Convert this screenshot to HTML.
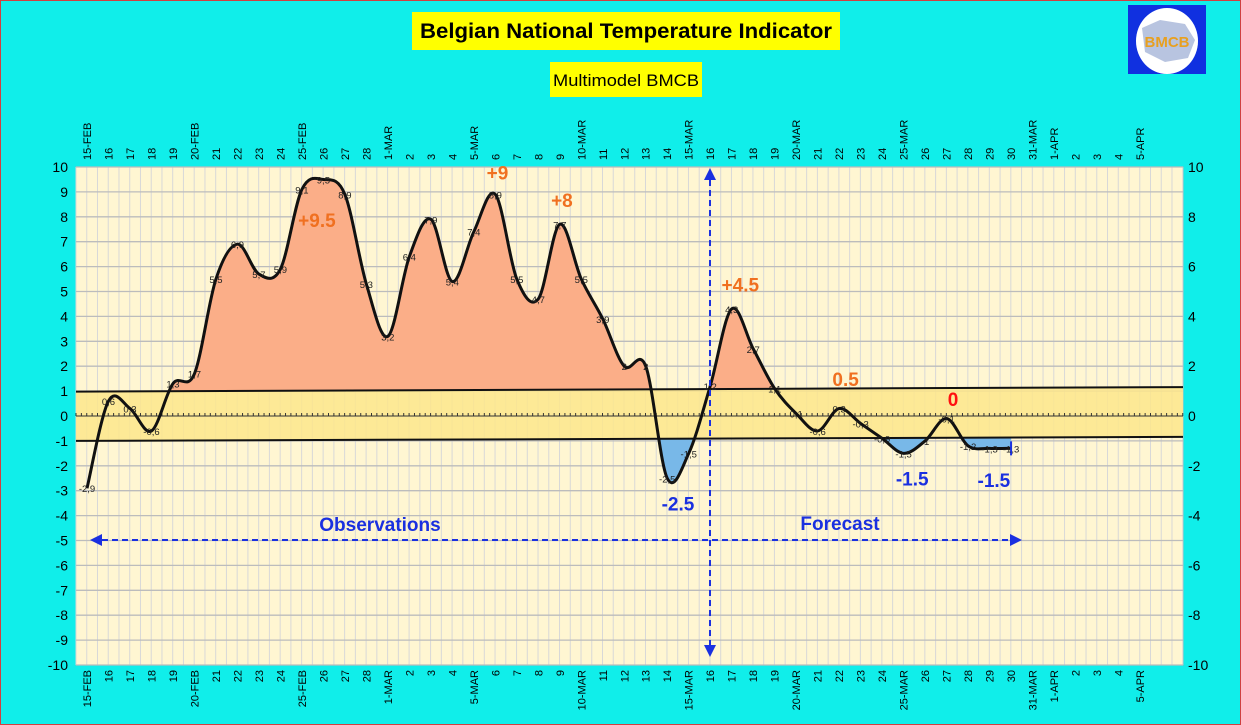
<!DOCTYPE html>
<html><head><meta charset="utf-8"><style>
html,body{margin:0;padding:0;background:#10eeea;}
svg{display:block;font-family:"Liberation Sans",sans-serif;}
</style></head><body>
<svg id="chart" width="1241" height="725" viewBox="0 0 1241 725">
<rect x="0.5" y="0.5" width="1240" height="724" fill="#10eeea" stroke="#d04040"/>
<rect x="412" y="12" width="428" height="38" fill="#ffff00"/>
<text x="626" y="38" text-anchor="middle" font-size="21" font-weight="bold" textLength="412" lengthAdjust="spacingAndGlyphs">Belgian National Temperature Indicator</text>
<rect x="550" y="62" width="152" height="35" fill="#ffff00"/>
<text x="626" y="86" text-anchor="middle" font-size="17" textLength="146" lengthAdjust="spacingAndGlyphs">Multimodel BMCB</text>
<g>
<rect x="1128" y="5" width="78" height="69" fill="#1030e0"/>
<ellipse cx="1167" cy="41" rx="31" ry="33" fill="#ffffff"/>
<path d="M1142 28 L1160 20 L1185 24 L1195 40 L1188 58 L1165 62 L1145 52 Z" fill="#b8c4e0"/>
<text x="1167" y="47" text-anchor="middle" font-size="15" font-weight="bold" fill="#e8a020">BMCB</text>
</g>
<g id="plot"></g>
</svg>
<script>
const days=["15-FEB","16","17","18","19","20-FEB","21","22","23","24","25-FEB","26","27","28","1-MAR","2","3","4","5-MAR","6","7","8","9","10-MAR","11","12","13","14","15-MAR","16","17","18","19","20-MAR","21","22","23","24","25-MAR","26","27","28","29","30","31-MAR","1-APR","2","3","4","5-APR"];
const values=[-2.9,0.6,0.3,-0.6,1.3,1.7,5.5,6.9,5.7,5.9,9.1,9.5,8.9,5.3,3.2,6.4,7.9,5.4,7.4,8.9,5.5,4.7,7.7,5.5,3.9,2,2,-2.5,-1.5,1.2,4.3,2.7,1.1,0.1,-0.6,0.3,-0.3,-0.9,-1.5,-1,-0.1,-1.2,-1.3,-1.3];
const yTicksLeft=[10,9,8,7,6,5,4,3,2,1,0,-1,-2,-3,-4,-5,-6,-7,-8,-9,-10];
const yTicksRight=[10,8,6,4,2,0,-2,-4,-6,-8,-10];
const bandUpper=[0.98,1.16];
const bandLower=[-1.0,-0.84];
const annotations=[["+9.5",10.7,7.6,"#f07020"],["+9",19.1,9.5,"#f07020"],["+8",22.1,8.4,"#f07020"],["+4.5",30.4,5.0,"#f07020"],["0.5",35.3,1.2,"#f07020"],["0",40.3,0.4,"#ff1010"],["-2.5",27.5,-3.8,"#1a30e0"],["-1.5",38.4,-2.8,"#1a30e0"],["-1.5",42.2,-2.85,"#1a30e0"]];
</script>
<script>
const NS="http://www.w3.org/2000/svg";
const g=document.getElementById('plot');
const L=76,R=1183,T=167,B=665;
const x0=87,dx=21.49;
function X(i){return x0+i*dx;}
function Y(v){return 416-v*24.9;}
function mk(tag,attrs,parent){const e=document.createElementNS(NS,tag);for(const k in attrs)e.setAttribute(k,attrs[k]);(parent||g).appendChild(e);return e;}
let bg=mk('rect',{x:L,y:T,width:R-L,height:B-T,fill:'#fff6d2',stroke:'#aaa'});


for(let xx=L;xx<=R;xx+=dx/2){let l=mk('line',{x1:xx,x2:xx,y1:T,y2:B,stroke:'#d8d8d8','stroke-width':1});

}
for(const v of yTicksLeft){let l=mk('line',{x1:L,x2:R,y1:Y(v),y2:Y(v),stroke:'#bcbcbc','stroke-width':1.3});

}
function bu(x){return Y(bandUpper[0]+(bandUpper[1]-bandUpper[0])*(x-L)/(R-L));}
function bl(x){return Y(bandLower[0]+(bandLower[1]-bandLower[0])*(x-L)/(R-L));}
let band=mk('polygon',{points:`${L},${bu(L)} ${R},${bu(R)} ${R},${bl(R)} ${L},${bl(L)}`,fill:'#fde68c',opacity:0.85});


const pts=values.map((v,i)=>[X(i),Y(v)]);
let d=`M${pts[0][0]},${pts[0][1]}`;
for(let i=0;i<pts.length-1;i++){const p0=pts[Math.max(0,i-1)],p1=pts[i],p2=pts[i+1],p3=pts[Math.min(pts.length-1,i+2)];
const c1=[p1[0]+(p2[0]-p0[0])/6,p1[1]+(p2[1]-p0[1])/6],c2=[p2[0]-(p3[0]-p1[0])/6,p2[1]-(p3[1]-p1[1])/6];
d+=` C${c1[0]},${c1[1]} ${c2[0]},${c2[1]} ${p2[0]},${p2[1]}`;}
const xs=pts[0][0],xe=pts[pts.length-1][0];
const defs=mk('defs',{});
const cpA=mk('clipPath',{id:'above'},defs);mk('polygon',{points:`${L},${T} ${R},${T} ${R},${bu(R)} ${L},${bu(L)}`},cpA);
const xb=X(1);
const cpB=mk('clipPath',{id:'below'},defs);mk('polygon',{points:`${xb},${bl(xb)} ${R},${bl(R)} ${R},${B} ${xb},${B}`},cpB);
let fa=mk('path',{d:d+` L${xe},${bu(xe)} L${xs},${bu(xs)} Z`,fill:'#fbae88','clip-path':'url(#above)'});


let fb=mk('path',{d:d+` L${xe},${bl(xe)} L${xs},${bl(xs)} Z`,fill:'#78b8e8','clip-path':'url(#below)'});


let l1=mk('line',{x1:L,y1:bu(L),x2:R,y2:bu(R),stroke:'#111','stroke-width':2});


let l2=mk('line',{x1:L,y1:bl(L),x2:R,y2:bl(R),stroke:'#111','stroke-width':2});


let z=mk('line',{x1:L,y1:Y(0),x2:R,y2:Y(0),stroke:'#333','stroke-width':1});


for(let xx=L;xx<=R;xx+=dx/4){let t=mk('line',{x1:xx,x2:xx,y1:Y(0)-3,y2:Y(0),stroke:'#333','stroke-width':1});

}
let c=mk('path',{d:d,fill:'none',stroke:'#111','stroke-width':3});


let et=mk('line',{x1:xe,x2:xe,y1:Y(values[values.length-1])-7,y2:Y(values[values.length-1])+7,stroke:'#1a30e0','stroke-width':2});


values.forEach((v,i)=>{let t=mk('text',{x:X(i),y:Y(v)+4,'text-anchor':'middle','font-size':9.5,fill:'#222'});t.textContent=String(v).replace('.',',');

});
yTicksLeft.forEach(v=>{let t=mk('text',{x:68,y:Y(v)+5,'text-anchor':'end','font-size':14});t.textContent=v;

});
yTicksRight.forEach(v=>{let t=mk('text',{x:1188,y:Y(v)+5,'font-size':14});t.textContent=v;

});
days.forEach((s,i)=>{const x=X(i)+4;
let t=mk('text',{x:0,y:0,transform:`translate(${x},160) rotate(-90)`,'font-size':11});t.textContent=s;


let b=mk('text',{x:0,y:0,transform:`translate(${x},670) rotate(-90)`,'font-size':11,'text-anchor':'end'});b.textContent=s;

});
annotations.forEach(a=>{let t=mk('text',{x:X(a[1]),y:Y(a[2]),'text-anchor':'middle','font-size':19,'font-weight':'bold',fill:a[3]});t.textContent=a[0];

});
mk('marker',{id:'ah',markerWidth:6,markerHeight:6,refX:5,refY:3,orient:'auto-start-reverse',markerUnits:'strokeWidth'},defs).appendChild((()=>{const p=document.createElementNS(NS,'path');p.setAttribute('d','M0,0 L6,3 L0,6 Z');p.setAttribute('fill','#1a30e0');return p;})());
let ha=mk('line',{x1:92,y1:540,x2:1020,y2:540,stroke:'#1a30e0','stroke-width':2,'stroke-dasharray':'6,4','marker-start':'url(#ah)','marker-end':'url(#ah)'});


let va=mk('line',{x1:710,y1:170,x2:710,y2:655,stroke:'#1a30e0','stroke-width':2,'stroke-dasharray':'6,4','marker-start':'url(#ah)','marker-end':'url(#ah)'});


let ob=mk('text',{x:380,y:531,'text-anchor':'middle','font-size':19,'font-weight':'bold',fill:'#1a30e0'});ob.textContent='Observations';


let fc=mk('text',{x:840,y:530,'text-anchor':'middle','font-size':19,'font-weight':'bold',fill:'#1a30e0'});fc.textContent='Forecast';


</script>
</body></html>
